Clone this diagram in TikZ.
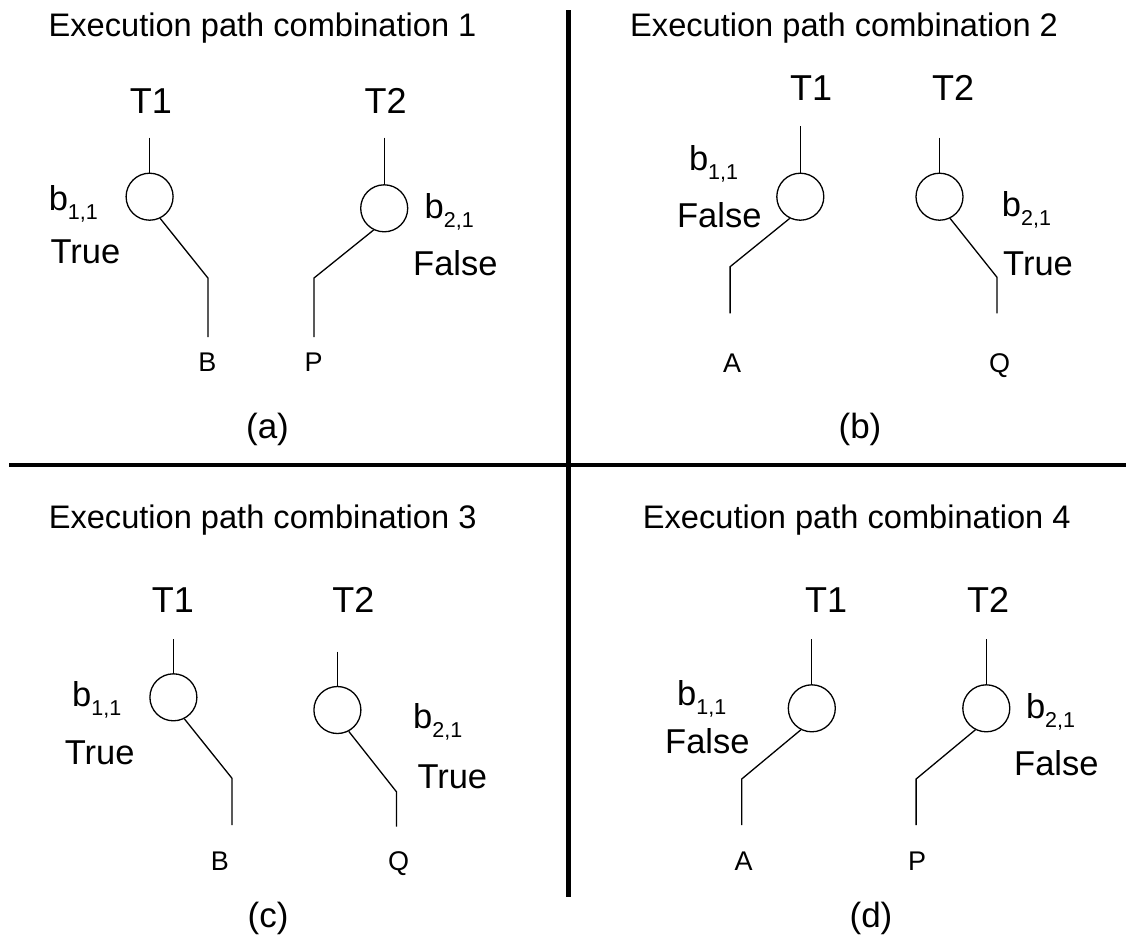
\documentclass[tikz,border=0pt]{standalone}
\usepackage{fontspec}
\setmainfont{Liberation Sans}
% branch label: b with a lowered index
\newcommand\condname[1]{b\raisebox{-9pt}{\fontsize{21.5}{22}\selectfont #1}}
\begin{document}
\begin{tikzpicture}[x=1pt,y=-1pt,
  ttl/.style={inner sep=0pt, anchor=base west, font=\fontsize{32.6}{33}\selectfont},
  lbl/.style={inner sep=0pt, anchor=base, font=\fontsize{36}{36}\selectfont},
  cond/.style={inner sep=0pt, anchor=base west, font=\fontsize{34.5}{35}\selectfont},
  leaf/.style={inner sep=0pt, anchor=base, font=\fontsize{27}{27}\selectfont},
  capt/.style={inner sep=0pt, anchor=base, font=\fontsize{35}{35}\selectfont},
  branchnode/.style={circle, draw, line width=1.3pt, minimum size=47pt, inner sep=0pt},
  wire/.style={line width=1.3pt},
  divider/.style={line width=4.5pt}
]
\fill[white] (0,0) rectangle (1126,938);
\useasboundingbox (0,0) rectangle (1126,938);

% ---------- quadrant dividers ----------
\coordinate (vtop) at (568.5,10);
\coordinate (vbot) at (568.5,896.7);
\coordinate (hleft) at (9,465);
\coordinate (hright) at (1126,465);
\draw[divider] (vtop) -- (vbot);
\draw[divider] (hleft) -- (hright);

% ---------- (a) ----------
\node[ttl] (a-title) at (48.5,36) {Execution path combination 1};
\node[lbl] (a-t1) at (151,113) {T1};
\node[lbl] (a-t2) at (385.7,113) {T2};
\node[branchnode] (a-c1) at (149.6,196.7) {};
\node[branchnode] (a-c2) at (384.2,208.3) {};
\coordinate (a-s1) at (149.6,137.7);
\coordinate (a-s2) at (384.2,137.7);
\coordinate (a-k1) at (207.9,278);
\coordinate (a-e1) at (207.9,337);
\coordinate (a-k2) at (314,278);
\coordinate (a-e2) at (314,337);
\draw[wire] (a-s1) -- (a-c1.north);
\draw[wire] (a-s2) -- (a-c2.north);
\draw[wire] (a-c1.-64) -- (a-k1) -- (a-e1);
\draw[wire] (a-c2.-116) -- (a-k2) -- (a-e2);
\node[leaf] (a-B) at (207.5,371.5) {B};
\node[leaf] (a-P) at (313.7,371.5) {P};
\node[cond] (a-b1) at (48.6,210) {\condname{1,1}};
\node[cond] (a-v1) at (50.4,263.3) {True};
\node[cond] (a-b2) at (424.5,218.3) {\condname{2,1}};
\node[cond] (a-v2) at (413,275) {False};
\node[capt] (a-cap) at (267.5,438) {(a)};

% ---------- (b) ----------
\node[ttl] (b-title) at (630,36) {Execution path combination 2};
\node[lbl] (b-t1) at (811,100) {T1};
\node[lbl] (b-t2) at (953,100) {T2};
\node[branchnode] (b-c1) at (800.3,196.7) {};
\node[branchnode] (b-c2) at (939.5,196.7) {};
\coordinate (b-s1) at (800.3,126);
\coordinate (b-s2) at (939.5,137.7);
\coordinate (b-k1) at (730.1,266.7);
\coordinate (b-e1) at (730.1,313.3);
\coordinate (b-k2) at (997,277.3);
\coordinate (b-e2) at (997,313.3);
\draw[wire] (b-s1) -- (b-c1.north);
\draw[wire] (b-s2) -- (b-c2.north);
\draw[wire] (b-c1.-116) -- (b-k1) -- (b-e1);
\draw[wire] (b-c2.-64) -- (b-k2) -- (b-e2);
\node[leaf] (b-A) at (732,372) {A};
\node[leaf] (b-Q) at (999.6,372) {Q};
\node[cond] (b-b1) at (688.8,170) {\condname{1,1}};
\node[cond] (b-v1) at (676.9,227.7) {False};
\node[cond] (b-b2) at (1001.7,216.7) {\condname{2,1}};
\node[cond] (b-v2) at (1003,275) {True};
\node[capt] (b-cap) at (860,438) {(b)};

% ---------- (c) ----------
\node[ttl] (c-title) at (48.6,528.3) {Execution path combination 3};
\node[lbl] (c-t1) at (173,612.7) {T1};
\node[lbl] (c-t2) at (353.4,612.7) {T2};
\node[branchnode] (c-c1) at (173.4,697.3) {};
\node[branchnode] (c-c2) at (337.4,710) {};
\coordinate (c-s1) at (173.4,639);
\coordinate (c-s2) at (337.4,651.7);
\coordinate (c-k1) at (232,778.3);
\coordinate (c-e1) at (232,825);
\coordinate (c-k2) at (396.4,791.7);
\coordinate (c-e2) at (396.4,826.7);
\draw[wire] (c-s1) -- (c-c1.north);
\draw[wire] (c-s2) -- (c-c2.north);
\draw[wire] (c-c1.-63) -- (c-k1) -- (c-e1);
\draw[wire] (c-c2.-62) -- (c-k2) -- (c-e2);
\node[leaf] (c-B) at (220,870.5) {B};
\node[leaf] (c-Q) at (398.6,870.5) {Q};
\node[cond] (c-b1) at (72,706.7) {\condname{1,1}};
\node[cond] (c-v1) at (64.7,764) {True};
\node[cond] (c-b2) at (413,728.3) {\condname{2,1}};
\node[cond] (c-v2) at (417.3,788.3) {True};
\node[capt] (c-cap) at (268,927) {(c)};

% ---------- (d) ----------
\node[ttl] (d-title) at (642.7,528.3) {Execution path combination 4};
\node[lbl] (d-t1) at (826,612.7) {T1};
\node[lbl] (d-t2) at (988,612.7) {T2};
\node[branchnode] (d-c1) at (811.8,708.3) {};
\node[branchnode] (d-c2) at (986.3,708.3) {};
\coordinate (d-s1) at (811.8,639);
\coordinate (d-s2) at (986.3,639);
\coordinate (d-k1) at (741.7,779);
\coordinate (d-e1) at (741.7,825);
\coordinate (d-k2) at (916.1,779);
\coordinate (d-e2) at (916.1,825);
\draw[wire] (d-s1) -- (d-c1.north);
\draw[wire] (d-s2) -- (d-c2.north);
\draw[wire] (d-c1.-117) -- (d-k1) -- (d-e1);
\draw[wire] (d-c2.-117) -- (d-k2) -- (d-e2);
\node[leaf] (d-A) at (743.5,870.5) {A};
\node[leaf] (d-P) at (917.2,870.5) {P};
\node[cond] (d-b1) at (677,705) {\condname{1,1}};
\node[cond] (d-v1) at (665,753.3) {False};
\node[cond] (d-b2) at (1025.8,718.3) {\condname{2,1}};
\node[cond] (d-v2) at (1014,775) {False};
\node[capt] (d-cap) at (871,927) {(d)};
\end{tikzpicture}
\end{document}
